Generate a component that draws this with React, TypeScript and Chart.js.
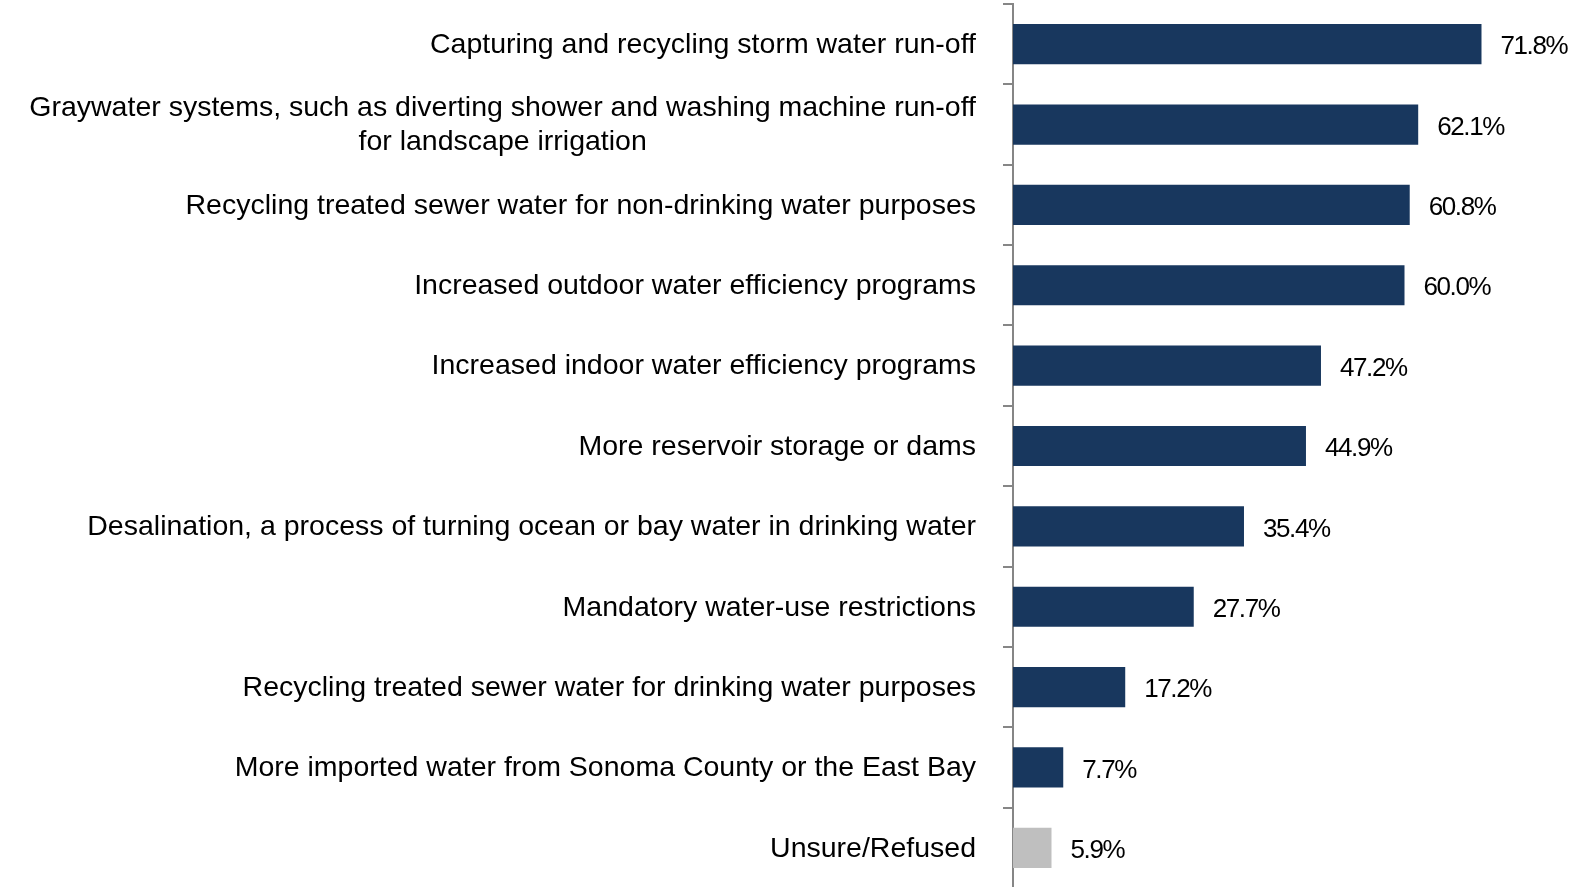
import React, { useEffect, useRef } from "react";
import { Chart, registerables } from "chart.js";

Chart.register(...registerables);

const categories: (string | string[])[] = [
  "Capturing and recycling storm water run-off",
  [
    "Graywater systems, such as diverting shower and washing machine run-off",
    "for landscape irrigation",
  ],
  "Recycling treated sewer water for non-drinking water purposes",
  "Increased outdoor water efficiency programs",
  "Increased indoor water efficiency programs",
  "More reservoir storage or dams",
  "Desalination, a process of turning ocean or bay water in drinking water",
  "Mandatory water-use restrictions",
  "Recycling treated sewer water for drinking water purposes",
  "More imported water from Sonoma County or the East Bay",
  "Unsure/Refused",
];

const values: number[] = [71.8, 62.1, 60.8, 60.0, 47.2, 44.9, 35.4, 27.7, 17.2, 7.7, 5.9];

const NAVY = "#18375E";
const GRAY = "#BFBFBF";
const barColors: string[] = [
  NAVY, NAVY, NAVY, NAVY, NAVY, NAVY, NAVY, NAVY, NAVY, NAVY, GRAY,
];

const xMin = 0;
const xMax = 80;

const FONT = "'Liberation Sans', Arial, sans-serif";

const valueLabelPlugin = {
  id: "valueLabels",
  afterDatasetsDraw(chart: any) {
    const ctx = chart.ctx as CanvasRenderingContext2D;
    const meta = chart.getDatasetMeta(0);
    ctx.save();
    ctx.font = `26px ${FONT}`;
    (ctx as any).letterSpacing = "-1.4px";
    ctx.fillStyle = "#000000";
    ctx.textAlign = "left";
    ctx.textBaseline = "middle";
    meta.data.forEach((bar: any, i: number) => {
      const v = chart.data.datasets[0].data[i] as number;
      ctx.fillText(v.toFixed(1) + "%", bar.x + 19, bar.y + 3);
    });
    ctx.restore();
  },
};

const categoryLabelPlugin = {
  id: "categoryLabels",
  afterDraw(chart: any) {
    const ctx = chart.ctx as CanvasRenderingContext2D;
    const yScale = chart.scales.y;
    const right = chart.chartArea.left - 37;
    const lineH = 34;
    ctx.save();
    ctx.font = `28.5px ${FONT}`;
    ctx.fillStyle = "#000000";
    ctx.textAlign = "center";
    ctx.textBaseline = "middle";
    (chart.data.labels as (string | string[])[]).forEach((lab, i) => {
      const lines = Array.isArray(lab) ? lab : [lab];
      const widths = lines.map((l) => ctx.measureText(l).width);
      const blockW = Math.max(...widths);
      const cx = right - blockW / 2;
      const cy = yScale.getPixelForValue(i) + 1;
      const startY = cy - ((lines.length - 1) * lineH) / 2;
      lines.forEach((l, k) => {
        ctx.fillText(l, cx, startY + k * lineH);
      });
    });
    ctx.restore();
  },
};

export default function App() {
  const canvasRef = useRef<HTMLCanvasElement | null>(null);

  useEffect(() => {
    if (!canvasRef.current) return;
    const chart = new Chart(canvasRef.current, {
      type: "bar",
      data: {
        labels: categories,
        datasets: [
          {
            data: values,
            backgroundColor: barColors,
            borderWidth: 0,
            categoryPercentage: 1,
            barPercentage: 0.5,
          },
        ],
      },
      options: {
        indexAxis: "y",
        responsive: false,
        animation: false,
        devicePixelRatio: 1,
        layout: { padding: { top: 4, right: 36, bottom: 4, left: 0 } },
        plugins: {
          legend: { display: false },
          tooltip: { enabled: false },
        },
        scales: {
          x: { display: false, min: xMin, max: xMax },
          y: {
            position: "left",
            z: 1,
            ticks: { display: false },
            grid: {
              display: true,
              drawOnChartArea: false,
              drawTicks: true,
              tickLength: 10,
              color: "#868686",
              lineWidth: 2,
              offset: true,
            },
            border: { display: true, color: "#868686", width: 2 },
            afterFit: (scale: any) => {
              scale.width = 1013;
            },
          },
        },
      },
      plugins: [valueLabelPlugin, categoryLabelPlugin],
    } as any);
    return () => chart.destroy();
  }, []);

  return (
    <div
      style={{
        position: "absolute",
        left: 0,
        top: 0,
        width: 1571,
        height: 887,
        overflow: "hidden",
        background: "#ffffff",
      }}
    >
      <canvas ref={canvasRef} width={1571} height={892} style={{ display: "block" }} />
    </div>
  );
}
